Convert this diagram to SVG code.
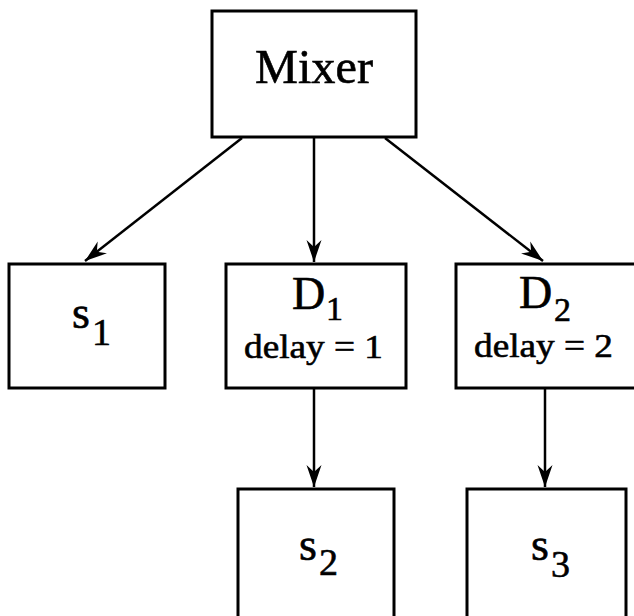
<svg xmlns="http://www.w3.org/2000/svg" width="634" height="616" viewBox="0 0 634 616" font-family="'Liberation Serif', 'Times New Roman', Times, serif">
  <defs>
    <marker id="arrow" markerUnits="userSpaceOnUse" markerWidth="30" markerHeight="20" viewBox="-24 -10 26 20" refX="0" refY="0" orient="auto">
      <path d="M0,0 L-22,-7.5 L-15,0 L-22,7.5 Z" fill="#000"/>
    </marker>
  </defs>
  <style>
    .box { fill: #fff; stroke: #000; stroke-width: 3; }
    .edge { fill: none; stroke: #000; stroke-width: 2.5; marker-end: url(#arrow); }
    .lbl { font-family: 'Liberation Serif', 'Times New Roman', Times, serif; fill: #000; stroke: #000; stroke-width: 0.6; }
    .big { font-size: 48px; }
    .sym { font-size: 46px; }
    .sub { font-size: 38px; }
    .dsub { font-size: 34px; }
    .note { font-size: 34px; }
  </style>
  <rect width="634" height="616" fill="#fff"/>

  <!-- connectors -->
  <g id="edges">
    <line class="edge" x1="242" y1="138" x2="85" y2="261"/>
    <line class="edge" x1="314" y1="138" x2="314" y2="262"/>
    <line class="edge" x1="385" y1="138" x2="543" y2="261"/>
    <line class="edge" x1="314" y1="388" x2="314" y2="487"/>
    <line class="edge" x1="545" y1="388" x2="545" y2="487"/>
  </g>

  <g id="mixer">
    <rect class="box" x="212" y="11" width="204" height="126"/>
    <text class="lbl big" x="255" y="83" textLength="118" lengthAdjust="spacingAndGlyphs">Mixer</text>
  </g>

  <g id="s1">
    <rect class="box" x="9" y="264" width="156" height="124"/>
    <text class="lbl sym" x="72" y="328">s<tspan class="sub" x="92" y="345">1</tspan></text>
  </g>

  <g id="d1">
    <rect class="box" x="226" y="264" width="180" height="124"/>
    <text class="lbl sym" x="292" y="309">D<tspan class="dsub" x="326" y="320">1</tspan></text>
    <text class="lbl note" x="244" y="358" textLength="139" lengthAdjust="spacingAndGlyphs">delay = 1</text>
  </g>

  <g id="d2">
    <rect class="box" x="456" y="264" width="190" height="124"/>
    <text class="lbl sym" x="519" y="308">D<tspan class="dsub" x="554" y="321">2</tspan></text>
    <text class="lbl note" x="474" y="357" textLength="139" lengthAdjust="spacingAndGlyphs">delay = 2</text>
  </g>

  <g id="s2">
    <rect class="box" x="238" y="489" width="156" height="130"/>
    <text class="lbl sym" x="299" y="560">s<tspan class="sub" x="319" y="575">2</tspan></text>
  </g>

  <g id="s3">
    <rect class="box" x="467" y="489" width="159" height="130"/>
    <text class="lbl sym" x="531" y="560">s<tspan class="sub" x="551" y="577">3</tspan></text>
  </g>
</svg>
